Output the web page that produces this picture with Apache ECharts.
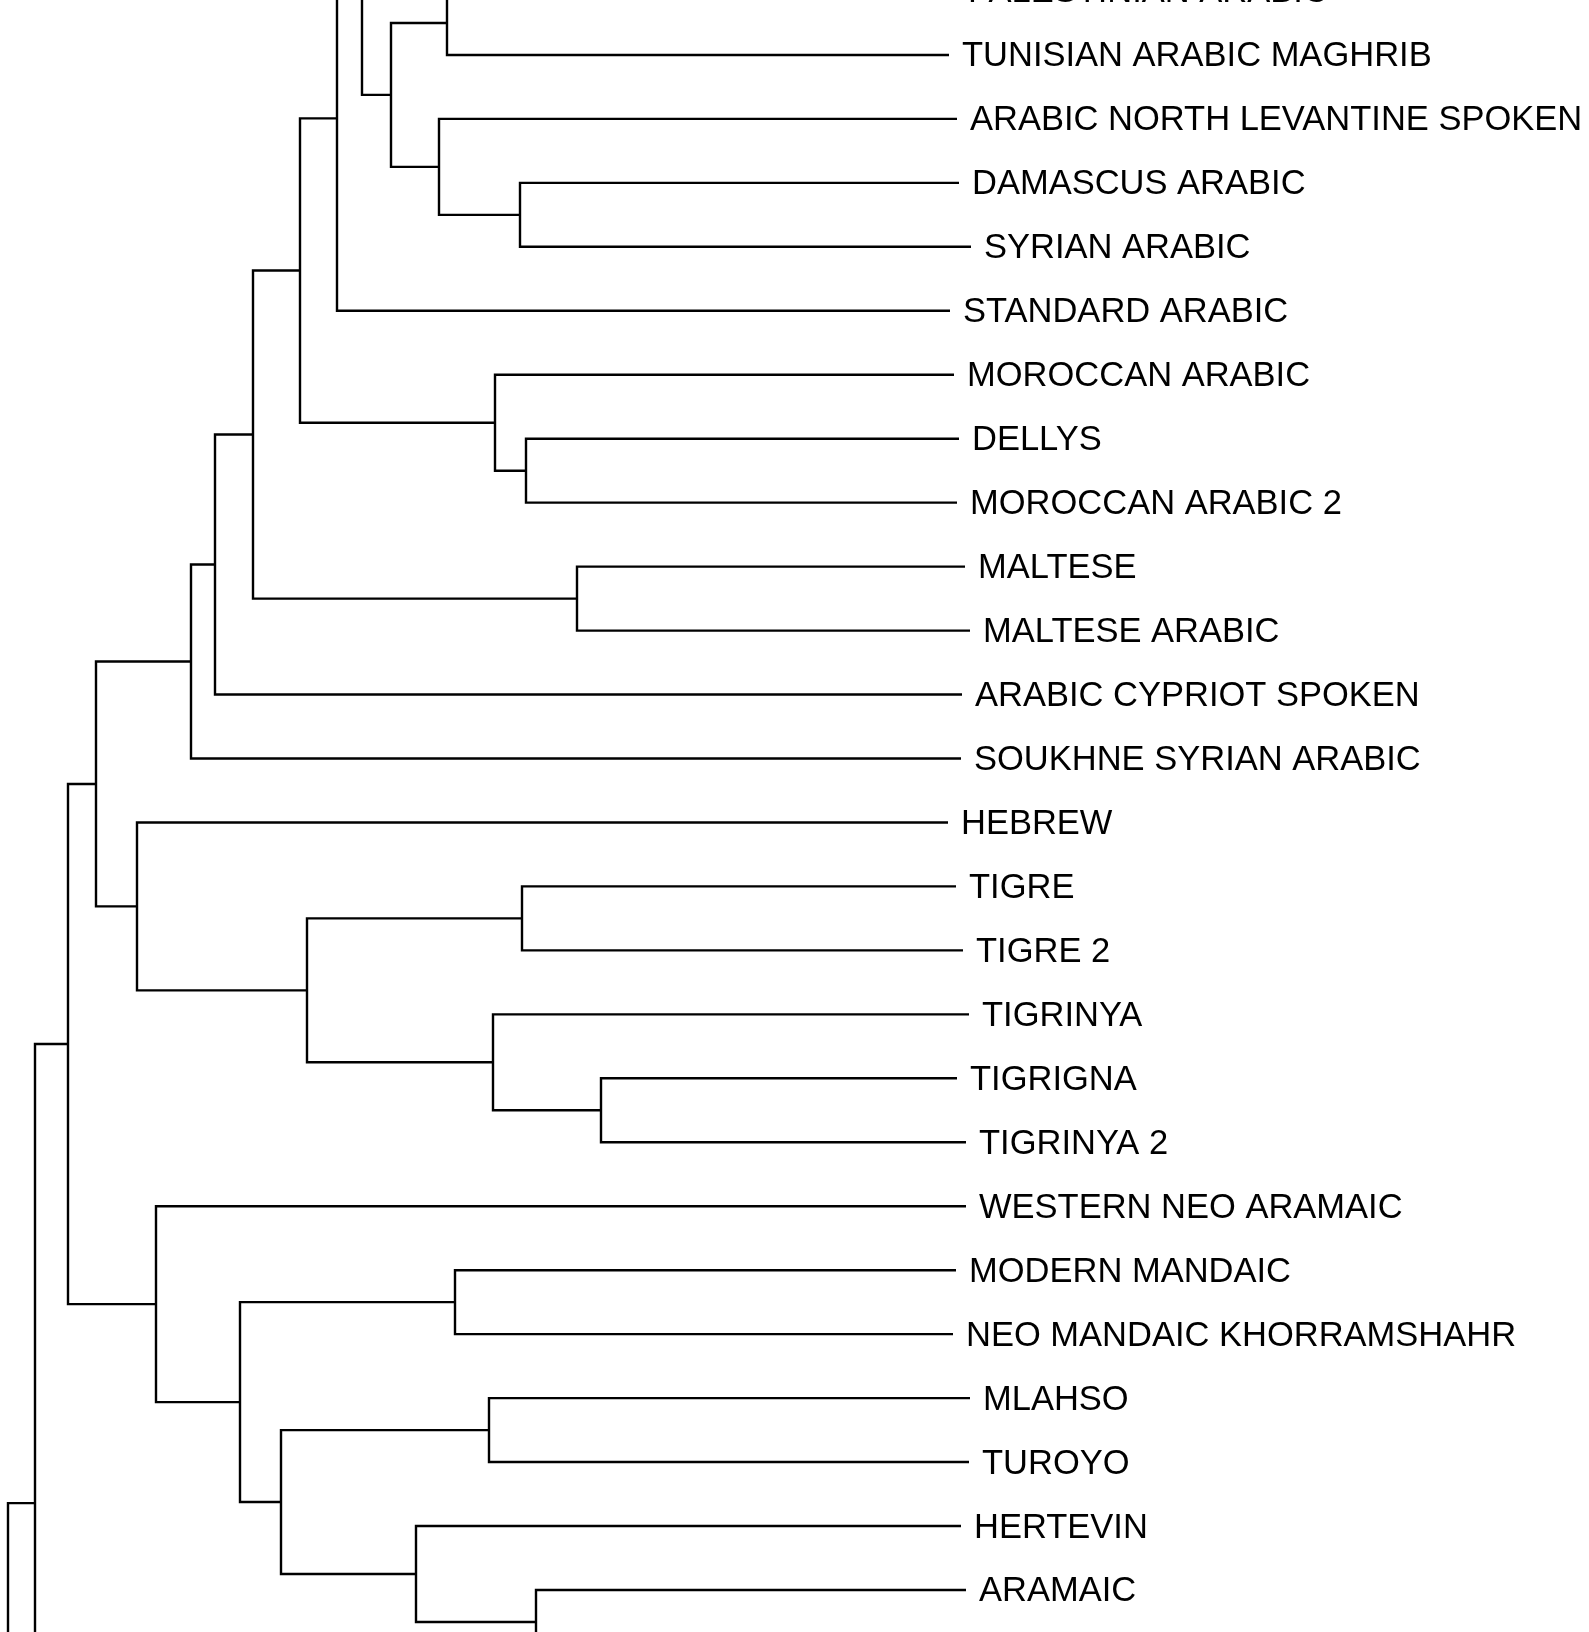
<!DOCTYPE html>
<html>
<head>
<meta charset="utf-8">
<script src="https://cdn.jsdelivr.net/npm/echarts@6.0.0/dist/echarts.min.js"></script>
<style>
    html, body { margin: 0; padding: 0; background: #fff; }
    #tree { width: 1589px; height: 1632px; }
</style>
</head>
<body>
<div id="tree"></div>

<script type="text/javascript">
    // leaves, top to bottom (row = index); the last one lies below the picture
    var leafNames = [
        'PALESTINIAN ARABIC', 'TUNISIAN ARABIC MAGHRIB', 'ARABIC NORTH LEVANTINE SPOKEN',
        'DAMASCUS ARABIC', 'SYRIAN ARABIC', 'STANDARD ARABIC', 'MOROCCAN ARABIC', 'DELLYS',
        'MOROCCAN ARABIC 2', 'MALTESE', 'MALTESE ARABIC', 'ARABIC CYPRIOT SPOKEN',
        'SOUKHNE SYRIAN ARABIC', 'HEBREW', 'TIGRE', 'TIGRE 2', 'TIGRINYA', 'TIGRIGNA',
        'TIGRINYA 2', 'WESTERN NEO ARAMAIC', 'MODERN MANDAIC', 'NEO MANDAIC KHORRAMSHAHR',
        'MLAHSO', 'TUROYO', 'HERTEVIN', 'ARAMAIC', ''
    ];
    // where each leaf's branch ends
    var leafTips = [
        955, 949, 957, 959, 971, 950, 954, 959, 957, 965, 970, 962, 961, 948,
        956, 963, 969, 957, 966, 966, 956, 953, 970, 969, 961, 966, 960
    ];

    // subtrees cut off by the picture edges: row position and branch end
    var stubRows = [-3.66, 30.82, 45];
    var stubTips = [420, 200, 120];

    // merges: [child, child, height]  l# = leaf, s# = stub, n# = earlier merge
    var merges = [
        ['l0', 'l1', 447],
        ['l3', 'l4', 520],
        ['l2', 'n1', 439],
        ['n0', 'n2', 391],
        ['s0', 'n3', 362],
        ['n4', 'l5', 337],
        ['l7', 'l8', 526],
        ['l6', 'n6', 495],
        ['n5', 'n7', 300],
        ['l9', 'l10', 577],
        ['n8', 'n9', 253],
        ['n10', 'l11', 215],
        ['n11', 'l12', 191],
        ['l14', 'l15', 522],
        ['l17', 'l18', 601],
        ['l16', 'n14', 493],
        ['n13', 'n15', 307],
        ['l13', 'n16', 137],
        ['n12', 'n17', 96],
        ['l20', 'l21', 455],
        ['l22', 'l23', 489],
        ['l25', 'l26', 536],
        ['l24', 'n21', 416],
        ['n20', 'n22', 281],
        ['n19', 'n23', 240],
        ['l19', 'n24', 156],
        ['n18', 'n25', 68],
        ['n26', 's1', 35],
        ['n27', 's2', 8]
    ];

    // row and x of any node
    var nodeRow = [];
    function place(key) {
        var i = parseInt(key.slice(1), 10);
        if (key[0] === 'l') return { row: i, x: leafTips[i] };
        if (key[0] === 's') return { row: stubRows[i], x: stubTips[i] };
        return { row: nodeRow[i], x: merges[i][2] };
    }

    var branchData = [];
    for (var i = 0; i < merges.length; i++) {
        var a = place(merges[i][0]);
        var b = place(merges[i][1]);
        nodeRow[i] = (a.row + b.row) / 2;
        branchData.push([merges[i][2], a.row, b.row, a.x, b.x]);
    }

    var labelData = [];
    for (var j = 0; j < leafNames.length; j++) {
        labelData.push([leafTips[j], j]);
    }

    var chart = echarts.init(document.getElementById('tree'));
    chart.setOption({
        animation: false,
        backgroundColor: '#fff',
        grid: { left: 0, right: 0, top: 0, bottom: 0 },
        xAxis: { type: 'value', min: 0, max: 1589, show: false },
        yAxis: { type: 'value', min: 0.141, max: 25.657, inverse: true, show: false },
        series: [
            {
                type: 'custom',
                clip: false,
                encode: { x: [0, 3, 4], y: [1, 2] },
                data: branchData,
                renderItem: function (params, api) {
                    var h = api.value(0);
                    var pa = api.coord([api.value(3), api.value(1)]);
                    var ka = api.coord([h, api.value(1)]);
                    var kb = api.coord([h, api.value(2)]);
                    var pb = api.coord([api.value(4), api.value(2)]);
                    return {
                        type: 'polyline',
                        shape: { points: [pa, ka, kb, pb] },
                        style: { stroke: '#000', lineWidth: 2.4, fill: null, lineJoin: 'miter' }
                    };
                }
            },
            {
                type: 'custom',
                clip: false,
                encode: { x: 0, y: 1 },
                data: labelData,
                renderItem: function (params, api) {
                    var p = api.coord([api.value(0), api.value(1)]);
                    return {
                        type: 'text',
                        style: {
                            text: leafNames[params.dataIndex],
                            x: p[0] + 13,
                            y: p[1] + 2,
                            fill: '#000',
                            font: '34.5px "Liberation Sans", Arial, sans-serif',
                            align: 'left',
                            verticalAlign: 'middle'
                        }
                    };
                }
            }
        ]
    });
</script>
</body>
</html>
